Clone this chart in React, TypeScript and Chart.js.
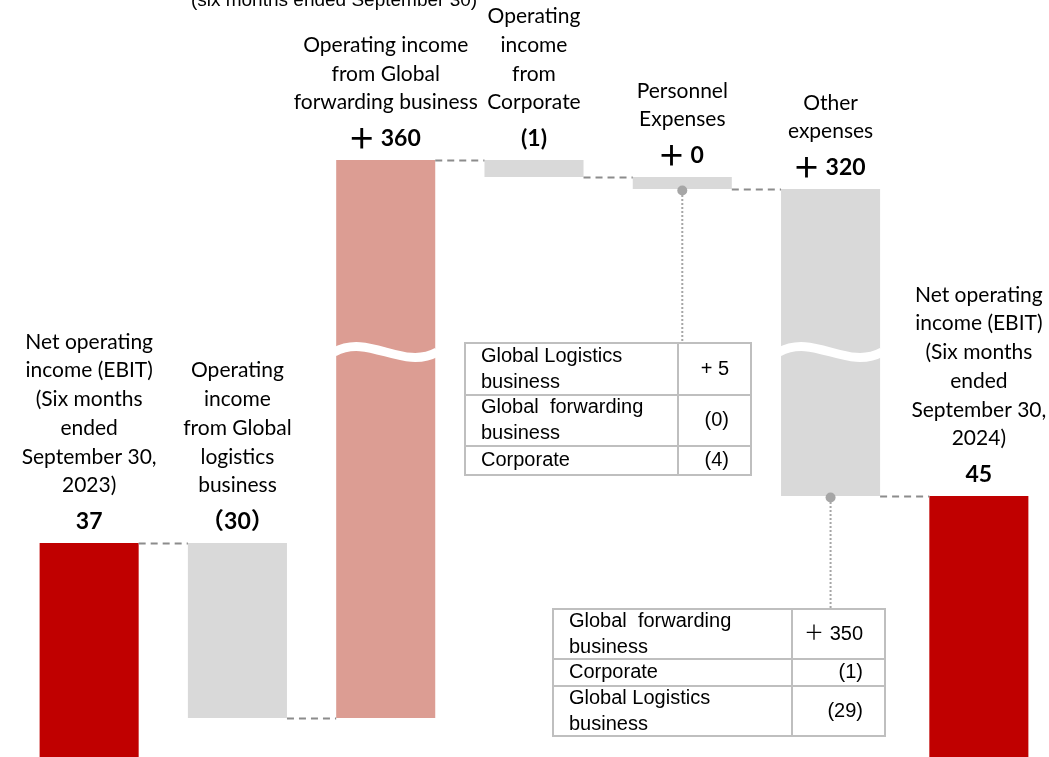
import React, { useEffect, useRef } from "react";
import { Chart, registerables } from "chart.js";

Chart.register(...registerables);

// ---- data ----
const categoryLines: string[][] = [
  ["Net operating", "income (EBIT)", "(Six months", "ended", "September 30,", "2023)"],
  ["Operating", "income", "from Global", "logistics", "business"],
  ["Operating income", "from Global", "forwarding business"],
  ["Operating", "income", "from", "Corporate"],
  ["Personnel", "Expenses"],
  ["Other", "expenses"],
  ["Net operating", "income (EBIT)", "(Six months", "ended", "September 30,", "2024)"],
];
const changeLabels = ["37", "（30）", "＋ 360", "(1)", "＋ 0", "＋ 320", "45"];
// bar levels on the (broken) display axis
const levelFrom = [0, 214, 39, 597, 580, 568, 0];
const levelTo = [214, 39, 597, 580, 568, 261, 261];
const breakLevels: (number | null)[] = [null, null, 405, null, null, 405, null];
const barColors = ["#C00000", "#D9D9D9", "#DC9D93", "#D9D9D9", "#D9D9D9", "#D9D9D9", "#C00000"];
const topNote = "(six months ended September 30)";

const table1Labels: string[][] = [["Global Logistics", "business"], ["Global  forwarding", "business"], ["Corporate"]];
const table1Values = ["+ 5", "(0)", "(4)"];
const table2Labels: string[][] = [["Global  forwarding", "business"], ["Corporate"], ["Global Logistics", "business"]];
const table2Values = ["＋ 350", "(1)", "(29)"];

// ---- layout (pixels) ----
const LABEL_FONT = "21px Lato, 'Noto Sans CJK JP', sans-serif";
const VALUE_FONT = "bold 23px Lato, 'Noto Sans CJK JP', sans-serif";
const PLUS_FONT = "bold 28px 'Noto Sans CJK JP', sans-serif";
const TABLE_FONT = "20px 'Liberation Sans', Arial, 'Noto Sans CJK JP', sans-serif";
const table1Box = { left: 465, right: 751, top: 343, col: 678, rows: [343, 395, 446, 475], barIndex: 4 };
const table2Box = { left: 553, right: 885, top: 609, col: 792, rows: [609, 659, 686, 736], barIndex: 5 };

function drawTable(ctx: CanvasRenderingContext2D, box: any, labels: string[][], values: string[]) {
  ctx.save();
  ctx.strokeStyle = "#BFBFBF";
  ctx.lineWidth = 2;
  ctx.fillStyle = "#FFFFFF";
  const bottom = box.rows[box.rows.length - 1];
  ctx.fillRect(box.left, box.top, box.right - box.left, bottom - box.top);
  ctx.strokeRect(box.left, box.top, box.right - box.left, bottom - box.top);
  ctx.beginPath();
  ctx.moveTo(box.col, box.top);
  ctx.lineTo(box.col, bottom);
  for (let r = 1; r < box.rows.length - 1; r++) {
    ctx.moveTo(box.left, box.rows[r]);
    ctx.lineTo(box.right, box.rows[r]);
  }
  ctx.stroke();
  ctx.fillStyle = "#000";
  ctx.font = TABLE_FONT;
  ctx.textBaseline = "middle";
  for (let r = 0; r < labels.length; r++) {
    const c = (box.rows[r] + box.rows[r + 1]) / 2;
    const lines = labels[r];
    const lh = 26;
    ctx.textAlign = "left";
    lines.forEach((l, i) => {
      ctx.fillText(l, box.left + 16, c + (i - (lines.length - 1) / 2) * lh);
    });
    ctx.textAlign = "right";
    ctx.fillText(values[r], box.right - 22, c);
  }
  ctx.restore();
}

function drawValue(ctx: CanvasRenderingContext2D, text: string, x: number, y: number) {
  if (text.startsWith("＋")) {
    const rest = text.slice(1).trim();
    const pw = 22;
    ctx.font = VALUE_FONT;
    const rw = ctx.measureText(rest).width;
    const gap = 8;
    const total = pw + gap + rw;
    const x0 = x - total / 2;
    ctx.font = PLUS_FONT;
    ctx.textAlign = "center";
    ctx.fillText("＋", x0 + pw / 2, y - 1);
    ctx.font = VALUE_FONT;
    ctx.textAlign = "left";
    ctx.fillText(rest, x0 + pw + gap, y);
    ctx.textAlign = "center";
  } else {
    ctx.font = VALUE_FONT;
    ctx.textAlign = "center";
    ctx.fillText(text, x, y);
  }
}

const overlayPlugin = {
  id: "waterfallOverlay",
  afterDatasetsDraw(chart: any) {
    const ctx: CanvasRenderingContext2D = chart.ctx;
    const meta = chart.getDatasetMeta(0);
    const yScale = chart.scales.y;
    const bars = meta.data.map((b: any) => {
      const p = b.getProps(["x", "y", "base", "width"], true);
      return { x: p.x, left: p.x - p.width / 2, right: p.x + p.width / 2, top: Math.min(p.y, p.base), bottom: Math.max(p.y, p.base), w: p.width };
    });

    // breaks (waves)
    ctx.save();
    ctx.strokeStyle = "#FFFFFF";
    ctx.lineWidth = 9;
    breakLevels.forEach((lv, i) => {
      if (lv == null) return;
      const b = bars[i];
      const c = yScale.getPixelForValue(lv);
      ctx.beginPath();
      ctx.moveTo(b.left - 2, c);
      ctx.bezierCurveTo(b.left + b.w * 0.33, c - 19, b.left + b.w * 0.67, c + 19, b.right + 2, c);
      ctx.stroke();
    });
    ctx.restore();

    // connectors
    ctx.save();
    ctx.strokeStyle = "#8C8C8C";
    ctx.lineWidth = 2;
    ctx.setLineDash([7, 5]);
    for (let i = 0; i < bars.length - 1; i++) {
      const y = Math.round(yScale.getPixelForValue(levelTo[i])) + 0.5;
      ctx.beginPath();
      ctx.moveTo(bars[i].right, y);
      ctx.lineTo(bars[i + 1].left, y);
      ctx.stroke();
    }
    ctx.restore();

    // callouts
    [table1Box, table2Box].forEach((box) => {
      const b = bars[box.barIndex];
      ctx.save();
      ctx.strokeStyle = "#A6A6A6";
      ctx.lineWidth = 2;
      ctx.setLineDash([2, 2]);
      ctx.beginPath();
      ctx.moveTo(b.x, b.bottom + 2);
      ctx.lineTo(b.x, box.top);
      ctx.stroke();
      ctx.setLineDash([]);
      ctx.fillStyle = "#A6A6A6";
      ctx.beginPath();
      ctx.arc(b.x, b.bottom + 1.5, 5, 0, Math.PI * 2);
      ctx.fill();
      ctx.restore();
    });
    drawTable(ctx, table1Box, table1Labels, table1Values);
    drawTable(ctx, table2Box, table2Labels, table2Values);

    // labels
    ctx.save();
    ctx.fillStyle = "#000";
    ctx.textAlign = "center";
    ctx.textBaseline = "middle";
    bars.forEach((b: any, i: number) => {
      const vy = b.top - 21;
      drawValue(ctx, changeLabels[i], b.x, vy);
      ctx.font = LABEL_FONT;
      ctx.textAlign = "center";
      const lines = categoryLines[i];
      const lastY = vy - 36.5;
      lines.forEach((l, k) => {
        ctx.fillText(l, b.x, lastY - (lines.length - 1 - k) * 28.7);
      });
    });
    // top note
    ctx.font = "19px 'Liberation Sans', Arial, sans-serif";
    ctx.textBaseline = "alphabetic";
    ctx.fillText(topNote, 334, 6);
    ctx.restore();
  },
};

export default function App() {
  const canvasRef = useRef<HTMLCanvasElement | null>(null);
  useEffect(() => {
    if (!canvasRef.current) return;
    const chart = new Chart(canvasRef.current, {
      type: "bar",
      data: {
        labels: categoryLines.map((l) => l.join(" ")),
        datasets: [
          {
            data: levelFrom.map((f, i) => [f, levelTo[i]]) as any,
            backgroundColor: barColors,
            borderWidth: 0,
            borderSkipped: false,
            barPercentage: 0.668,
            categoryPercentage: 1,
          },
        ],
      },
      options: {
        animation: false,
        responsive: false,
        maintainAspectRatio: false,
        devicePixelRatio: 1,
        layout: { padding: { left: 15, right: 3, top: 0, bottom: 0 } },
        plugins: { legend: { display: false }, tooltip: { enabled: false }, title: { display: false } },
        scales: {
          x: { display: false },
          y: { display: false, min: 0, max: 757 },
        },
      },
      plugins: [overlayPlugin],
    });
    return () => chart.destroy();
  }, []);
  return (
    <div style={{ position: "absolute", left: 0, top: 0, width: 1049, height: 757, overflow: "hidden", background: "#fff" }}>
      <canvas ref={canvasRef} width={1056} height={757} style={{ display: "block" }} />
    </div>
  );
}
